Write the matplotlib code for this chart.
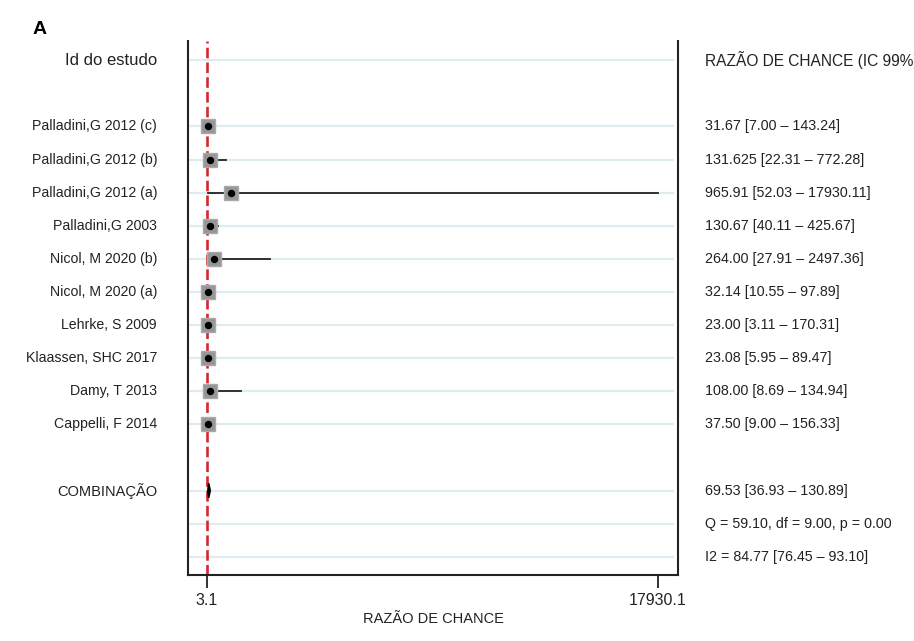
import numpy as np
import matplotlib
matplotlib.use('Agg')
import matplotlib.pyplot as plt
from matplotlib.transforms import blended_transform_factory

plt.rcParams['font.family'] = ['Liberation Sans', 'DejaVu Sans']

# ---- data ----
studies = ['Palladini,G 2012 (c)', 'Palladini,G 2012 (b)', 'Palladini,G 2012 (a)',
           'Palladini,G 2003', 'Nicol, M 2020 (b)', 'Nicol, M 2020 (a)',
           'Lehrke, S 2009', 'Klaassen, SHC 2017', 'Damy, T 2013', 'Cappelli, F 2014']
odds = [31.67, 131.625, 965.91, 130.67, 264.00, 32.14, 23.00, 23.08, 108.00, 37.50]
ci_lo = [7.00, 22.31, 52.03, 40.11, 27.91, 10.55, 3.11, 5.95, 8.69, 9.00]
ci_hi = [143.24, 772.28, 17930.11, 425.67, 2497.36, 97.89, 170.31, 89.47, 1340.0, 156.33]
labels_right = ['31.67 [7.00 – 143.24]', '131.625 [22.31 – 772.28]',
                '965.91 [52.03 – 17930.11]', '130.67 [40.11 – 425.67]',
                '264.00 [27.91 – 2497.36]', '32.14 [10.55 – 97.89]',
                '23.00 [3.11 – 170.31]', '23.08 [5.95 – 89.47]',
                '108.00 [8.69 – 134.94]', '37.50 [9.00 – 156.33]']

pooled = 69.53
pooled_lo = 36.93
pooled_hi = 130.89
pooled_label = '69.53 [36.93 – 130.89]'
het_q = 'Q = 59.10, df = 9.00, p = 0.00'
het_i2 = 'I2 = 84.77 [76.45 – 93.10]'

xticks = [3.1, 17930.1]
null_value = 1.0

# ---- layout rows ----
header_row = 0
study_rows = np.arange(2, 2 + len(studies))
pooled_row = study_rows[-1] + 2
q_row = pooled_row + 1
i2_row = pooled_row + 2

fig = plt.figure(figsize=(9.14, 6.41), dpi=100)
ax = fig.add_axes([188/914, 1 - 575/641, 490/914, 534/641])

step = (xticks[1] - xticks[0]) / 451.0
ax.set_xlim(xticks[0] - 19*step, xticks[1] + 20*step)
ax.set_ylim(15.55, -0.58)

grid_c = '#deebef'
for r in [header_row, *study_rows, pooled_row, q_row, i2_row]:
    ax.axhline(r, xmin=0.005, xmax=0.99, color=grid_c, lw=1.6, zorder=0)

ax.axvline(null_value, color='#d7262f', lw=1.9, dashes=(4, 1.6), zorder=1)

for r, o, lo, hi in zip(study_rows, odds, ci_lo, ci_hi):
    ax.plot([lo, hi], [r, r], color='#222222', lw=1.3, zorder=2)
    ax.plot(o, r, marker='s', ms=10.5, mfc='#969696', mec='#aaaaaa', zorder=3)
    ax.plot(o, r, marker='o', ms=4.3, color='black', zorder=4)

h = 0.22
ax.fill([pooled_lo, pooled, pooled_hi, pooled],
        [pooled_row, pooled_row - h, pooled_row, pooled_row + h],
        color='black', lw=1.2, ec='black', zorder=4)

ax.spines['top'].set_visible(False)
for s in ['left', 'right', 'bottom']:
    ax.spines[s].set_linewidth(1.5)
    ax.spines[s].set_color('#222222')

ax.set_yticks([])
ax.set_xticks(xticks)
ax.set_xticklabels(['%.1f' % t for t in xticks])
ax.tick_params(axis='x', length=9, width=1.3, color='#222222', labelsize=11.5, pad=4,
               labelcolor='#222222')
ax.set_xlabel('RAZÃO DE CHANCE', fontsize=10.5, labelpad=3, color='#222222')

tl = blended_transform_factory(ax.transAxes, ax.transData)
xl = (157 - 188) / 490.0
xr = (705 - 188) / 490.0
tc = '#222222'
ax.text(xl, header_row, 'Id do estudo', transform=tl, ha='right', va='center',
        fontsize=12, color=tc)
ax.text(xr, header_row, 'RAZÃO DE CHANCE (IC 99%)', transform=tl, ha='left', va='center',
        fontsize=11.2, color=tc)
for r, s, lab in zip(study_rows, studies, labels_right):
    ax.text(xl, r, s, transform=tl, ha='right', va='center', fontsize=10.2, color=tc)
    ax.text(xr, r, lab, transform=tl, ha='left', va='center', fontsize=10.3, color=tc)
ax.text(xl, pooled_row, 'COMBINAÇÃO', transform=tl, ha='right', va='center',
        fontsize=10.5, color=tc)
ax.text(xr, pooled_row, pooled_label, transform=tl, ha='left', va='center',
        fontsize=10.3, color=tc)
ax.text(xr, q_row, het_q, transform=tl, ha='left', va='center', fontsize=10.3, color=tc)
ax.text(xr, i2_row, het_i2, transform=tl, ha='left', va='center', fontsize=10.3, color=tc)

fig.text(33/914, 1 - 30/641, 'A', fontsize=14, fontweight='bold', ha='left', va='center')

fig.savefig('out.png', dpi=100)
